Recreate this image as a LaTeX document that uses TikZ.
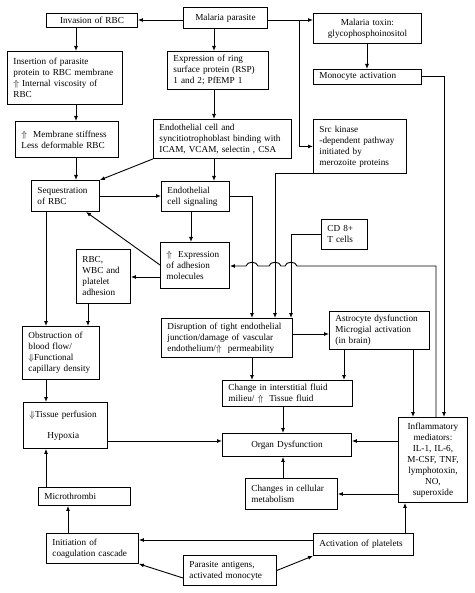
\documentclass[tikz,border=0pt]{standalone}
\usepackage{fontspec}
\setmainfont{Liberation Serif}
\usetikzlibrary{arrows.meta}
\begin{document}
\begin{tikzpicture}
[x=1pt,y=-1pt,
  boxdecorate/.style={shape=rectangle,draw,line width=0.9pt,inner xsep=6pt,
    inner ysep=1pt,anchor=north west,font=\fontsize{9.2}{11}\selectfont},%
  leftbox/.style={align=left},%
  midbox/.style={align=center},%
  linedecorate/.style={-{Latex[length=5pt,width=4pt]},line width=0.9pt}]
\useasboundingbox (0,0) rectangle (474,593);
%% boxes
\foreach \nodename/\x/\y/\w/\h/\al/\txt in {
  parasite/183/7/84/21/midbox/{Malaria parasite},
  invasion/46/13/91/14/midbox/{Invasion of RBC},
  toxin/313/13/108/30/midbox/{Malaria toxin:\\glycophosphoinositol},
  monocyte/313/69/108/15/leftbox/{Monocyte activation},
  insertion/7/51/115/53/leftbox/{Insertion of parasite\\protein to RBC membrane\\$\Uparrow$\ Internal viscosity of\\RBC},
  ring/167/51/101/38/leftbox/{Expression of ring\\surface protein (RSP)\\1 and 2; PfEMP 1},
  stiffness/15/121/103/36/leftbox/{$\Uparrow$\ \ Membrane stiffness\\Less deformable RBC},
  binding/153/119/138/39/leftbox/{Endothelial cell and\\syncitiotrophoblast binding with\\ICAM, VCAM, selectin , CSA},
  src/313/119/93/54/leftbox/{Src kinase\\-dependent pathway\\initiated by\\merozoite proteins},
  seq/31/180/68/31/leftbox/{Sequestration\\of RBC},
  signaling/161/181/68/30/leftbox/{Endothelial\\cell signaling},
  cd8/321/219/46/30/leftbox/{CD 8+\\T cells},
  adhesion/160/242/69/46/leftbox/{$\Uparrow$\ \ Expression\\of adhesion\\molecules},
  rbcwbc/76/249/54/54/leftbox/{RBC,\\WBC and\\platelet\\adhesion},
  disruption/161/318/131/39/leftbox/{Disruption of tight endothelial\\junction/damage of vascular\\endothelium/$\Uparrow$\ \ permeability},
  astrocyte/329/311/100/38/leftbox/{Astrocyte dysfunction\\Microgial activation\\(in brain)},
  obstruction/22/326/77/53/leftbox/{Obstruction of\\blood flow/\\$\Downarrow$Functional\\capillary density},
  interstitial/222/380/130/26/leftbox/{Change in interstitial fluid\\milieu/ $\Uparrow$\ \ Tissue fluid},
  perfusion/23/402/84/46/leftbox/{$\Downarrow$Tissue perfusion\\[10pt]\hspace*{18pt}Hypoxia},
  organ/222/433/129/23/midbox/{Organ Dysfunction},
  inflammatory/398/417/69/85/midbox/{Inflammatory\\mediators:\\IL-1, IL-6,\\M-CSF, TNF,\\lymphotoxin,\\NO,\\superoxide},
  metabolism/245/478/92/31/leftbox/{Changes in cellular\\metabolism},
  micro/38/487/92/18/leftbox/{Microthrombi},
  coag/46/533/92/30/leftbox/{Initiation of\\coagulation cascade},
  platelets/313/533/100/22/leftbox/{Activation of platelets},
  antigens/183/555/93/30/leftbox/{Parasite antigens,\\activated monocyte}} {
  \pgfmathsetmacro{\tw}{\w-12}
  \node (\nodename) at (\x,\y) [boxdecorate,\al,minimum width=\w pt,
    minimum height=\h pt,text width=\tw pt] {\txt};
}
%% arrows down
\foreach \startnode/\endnode/\x in {invasion/insertion/76, insertion/stiffness/76,
  stiffness/seq/76, parasite/ring/214, ring/binding/214, binding/signaling/214,
  signaling/adhesion/191, seq/obstruction/46, rbcwbc/obstruction/88,
  obstruction/perfusion/46, toxin/monocyte/367, disruption/interstitial/252,
  astrocyte/interstitial/344, astrocyte/inflammatory/413, interstitial/organ/283} {
  \draw[linedecorate] (\startnode.south -| \x,0) -- (\endnode.north -| \x,0);
}
%% arrows up
\foreach \startnode/\endnode/\x in {micro/perfusion/46, coag/micro/68,
  metabolism/organ/283, platelets/inflammatory/405} {
  \draw[linedecorate] (\startnode.north -| \x,0) -- (\endnode.south -| \x,0);
}
%% arrows left
\foreach \startnode/\endnode/\y in {parasite/invasion/20, adhesion/rbcwbc/277,
  inflammatory/organ/441, inflammatory/metabolism/494, platelets/coag/540} {
  \draw[linedecorate] (\startnode.west |- 0,\y) -- (\endnode.east |- 0,\y);
}
%% arrows right
\foreach \startnode/\endnode/\y in {parasite/toxin/20, seq/signaling/196,
  perfusion/organ/441, disruption/astrocyte/334} {
  \draw[linedecorate] (\startnode.east |- 0,\y) -- (\endnode.west |- 0,\y);
}
%% slanted and bent arrows
\coordinate (fork) at (299,20);
\draw[linedecorate] (fork) |- (src.west);
\draw[linedecorate] (binding.south west) -- (seq.north east);
\draw[linedecorate] (adhesion.west |- 0,265) -- (seq.south -| 86,0);
\draw[linedecorate] (antigens.west |- 0,578) -- (coag.south east);
\draw[linedecorate] (antigens.east) -- (platelets.south west);
\draw[linedecorate] (monocyte.east) -| (inflammatory.north -| 444,0);
\draw[linedecorate] (signaling.east) -| (disruption.north -| 252,0);
\draw[linedecorate] (src.south west) -| (disruption.north -| 275,0);
\draw[linedecorate] (cd8.west) -| (disruption.north -| 291,0);
%% feedback line hopping over the three arrows
\draw[linedecorate] (inflammatory.north -| 436,0) -- (436,266)
  \foreach \hx in {291,275,252} {
    -- (\hx+6,266) .. controls (\hx+5,261) and (\hx-5,261) .. (\hx-6,266)
  } -- (adhesion.east |- 0,266);
\end{tikzpicture}
\end{document}
